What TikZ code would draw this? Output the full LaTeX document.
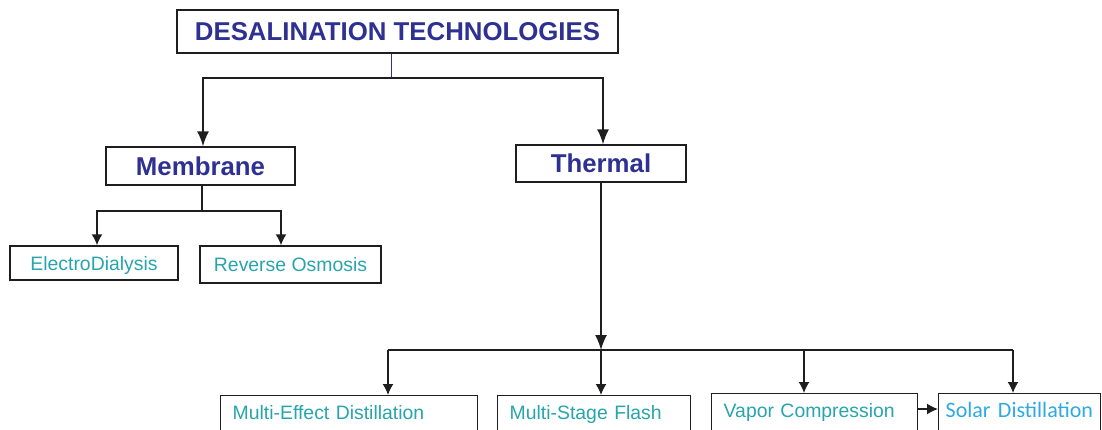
\documentclass[tikz,border=0pt]{standalone}
\usepackage{fontspec}
\setmainfont{Liberation Sans}
\newfontfamily\carlito{Carlito}
\usetikzlibrary{arrows.meta,positioning}
\definecolor{headblue}{RGB}{46,49,146}
\definecolor{leafteal}{RGB}{38,165,172}
\definecolor{solarblue}{RGB}{45,170,225}
\definecolor{linegray}{RGB}{30,30,30}

\begin{document}
\begin{tikzpicture}[>={Latex[length=15pt,width=12pt]},x=1pt,y=-1pt]
\tikzstyle{box}=[draw=linegray, line width=1.4pt, rectangle, inner sep=0pt]
\tikzstyle{head}=[box, font=\fontsize{25.8}{28}\selectfont\bfseries, text=headblue]
\tikzstyle{leaf}=[box, font=\fontsize{19.4}{22}\selectfont, text=leafteal, text depth=0pt]
\tikzstyle{tech}=[leaf, anchor=north west, inner xsep=12pt, inner ysep=6pt, text height=18pt, text depth=40pt, align=left]
\tikzstyle{link}=[line width=1.5pt, draw=linegray]
\tikzstyle{small}=[-{Latex[length=11pt,width=11pt]}]

\useasboundingbox (0,0) rectangle (1102,430);
\clip (0,0) rectangle (1102,430);

% top block
\node[head, minimum width=441pt, minimum height=43pt] (desal) at (397.5,31.5) {DESALINATION TECHNOLOGIES};

% two families
\node[head, minimum width=189pt, minimum height=38pt] (memb) at (200.5,166) {Membrane};
\node[head, minimum width=170pt, minimum height=37pt] (therm) at (601,163.5) {Thermal};

% membrane processes
\node[leaf, minimum width=168pt, minimum height=34pt] (edial) at (94,263) {ElectroDialysis};
\node[leaf, minimum width=181pt, minimum height=37pt] (revos) at (290.5,264.5) {Reverse Osmosis};

% thermal processes (cut by the lower edge)
\node[tech, text width=233pt] (medist) at (220,395) {Multi-Effect Distillation};
\node[tech, text width=169pt] (msflash) at (497,395) {Multi-Stage Flash};
\node[tech, text width=182pt] (vapcomp) at (711,393) {Vapor Compression};
\node[tech, inner xsep=7pt, text width=148pt, font=\carlito\fontsize{22}{25}\selectfont, text=solarblue] (solar) at (938,393) {Solar Distillation};

% links from the top
\coordinate (topsplit) at (391,78);
\draw[draw=headblue, line width=0.9pt] (desal.south -| topsplit) -- (topsplit);
\draw[link,->] (topsplit) -| ([xshift=2.5pt]memb.north);
\draw[link,->] (topsplit) -| ([xshift=2pt]therm.north);

% membrane branch
\coordinate (msplit) at (202,211);
\draw[link] (memb.south -| msplit) -- (msplit);
\draw[link,small] (msplit) -| ([xshift=3pt]edial.north);
\draw[link,small] (msplit) -| ([xshift=-9.5pt]revos.north);

% thermal branch
\coordinate (tsplit) at (601,350);
\coordinate (tleft) at (388,350);
\coordinate (tvc) at (804,350);
\coordinate (tright) at (1013,350);
\draw[link,->] (therm.south) -- (tsplit);
\draw[link] (tleft) -- (tright);
\draw[link,small] (tleft) -- (tleft |- medist.north);
\draw[link,small] (tsplit) -- (tsplit |- msflash.north);
\draw[link,small] (tvc) -- (tvc |- vapcomp.north);
\draw[link,small] (tright) -- (tright |- solar.north);
\draw[link,small] ([yshift=-16pt]vapcomp.north east) -- ([yshift=-16pt]solar.north west);

\end{tikzpicture}
\end{document}
